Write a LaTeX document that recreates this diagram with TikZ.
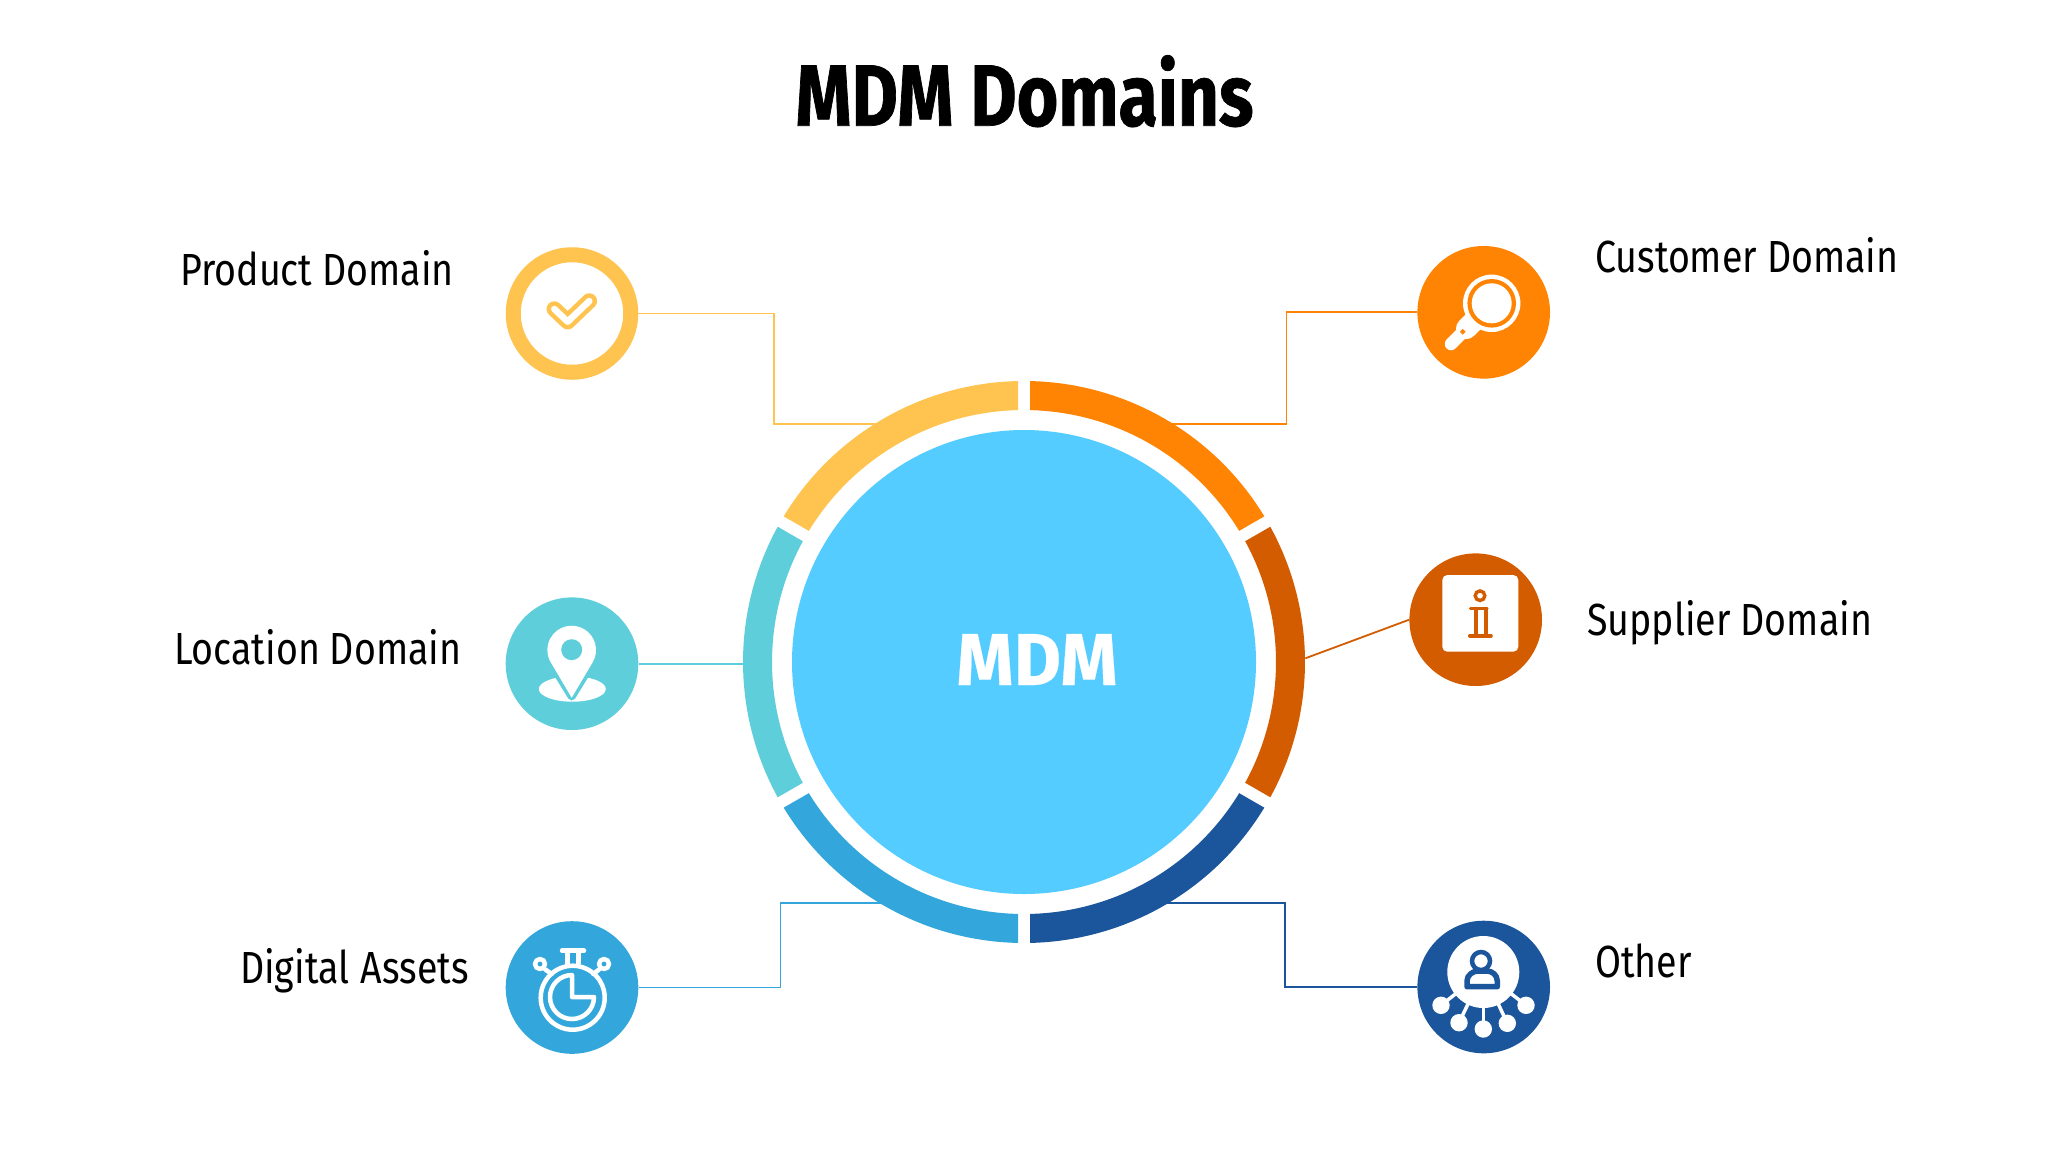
\documentclass[tikz,border=0pt]{standalone}
\usepackage{fontspec}
\setmainfont[FakeStretch=0.835]{Fira Sans}
\newfontfamily\titlefont[FakeStretch=0.82,FakeBold=0.8]{Fira Sans Bold}
\newfontfamily\mdmfont[FakeStretch=0.99,FakeBold=0.3]{Fira Sans Bold}
\definecolor{cyel}{HTML}{FFC34F}
\definecolor{corg}{HTML}{FF8403}
\definecolor{cbrn}{HTML}{D45C00}
\definecolor{cteal}{HTML}{5FCEDB}
\definecolor{cblu}{HTML}{33A7DB}
\definecolor{cnav}{HTML}{1B559C}
\definecolor{cdisc}{HTML}{54CCFF}
\tikzset{
  iconcircle/.style={circle,draw=none,minimum size=132.6pt,inner sep=0pt},
  conn/.style={line width=1.8pt,line join=miter},
  lab/.style={anchor=base west,inner sep=0pt,font=\fontsize{45}{50}\selectfont,text=black},
  iconline/.style={white,line width=4.5pt,line cap=round,line join=round}
}
\newcommand{\ringseg}[3]{%
  \fill[#1] (#2+1.223:281pt) arc[start angle=#2+1.223,end angle=#3-1.223,radius=281pt]
    -- (#3-1.364:252pt) arc[start angle=#3-1.364,end angle=#2+1.364,radius=252pt] -- cycle;}
\begin{document}
\begin{tikzpicture}[x=1pt,y=1pt,yscale=-1]
\useasboundingbox (0,0) rectangle (2048,1152);
\fill[white] (0,0) rectangle (2048,1152);

\node[inner sep=0pt,anchor=base,font=\titlefont\fontsize{87}{90}\selectfont] (title) at (1024.5,125.7) {MDM Domains};

% icon discs
\node[iconcircle,draw=cyel,line width=15pt,minimum size=117.5pt,fill=white] (product) at (572,313.5) {};
\node[iconcircle,fill=corg] (customer) at (1483.7,312.3) {};
\node[iconcircle,fill=cteal] (location) at (572,663.7) {};
\node[iconcircle,fill=cbrn] (supplier) at (1475.7,619.7) {};
\node[iconcircle,fill=cblu] (digital) at (572,987.5) {};
\node[iconcircle,fill=cnav] (other) at (1483.7,987) {};

% connector free ends on the ring
\coordinate (rP) at (905,423.8);
\coordinate (rC) at (1143,423.8);
\coordinate (rL) at (756,663.7);
\coordinate (rS) at (1305.3,658.3);
\coordinate (rD) at (911,903);
\coordinate (rO) at (1137,903);

\draw[conn,cyel] (product.east) -| (773.9,423.8) -- (rP);
\draw[conn,corg] (customer.west) -| (1286.5,423.8) -- (rC);
\draw[conn,cteal] (location.east) -- (rL);
\draw[conn,cbrn] (supplier.west) -- (rS);
\draw[conn,cblu] (digital.east) -| (780.4,903) -- (rD);
\draw[conn,cnav] (other.west) -| (1284.6,903) -- (rO);

% ring and centre
\begin{scope}[shift={(1024,662)}]
\ringseg{corg}{-90}{-30}
\ringseg{cbrn}{-30}{30}
\ringseg{cnav}{30}{90}
\ringseg{cblu}{90}{150}
\ringseg{cteal}{150}{210}
\ringseg{cyel}{210}{270}
\end{scope}
\node[circle,fill=cdisc,minimum size=464pt,inner sep=0pt] (mdm) at (1024,662) {};
\node[inner sep=0pt,anchor=base,text=white,font=\mdmfont\fontsize{73.6}{80}\selectfont] (mdmlabel) at (1037,685) {MDM};

% labels
\node[lab] (lproduct) at (180,285.5) {Product Domain};
\node[lab] (lcustomer) at (1595,272.5) {Customer Domain};
\node[lab] (llocation) at (174,664) {Location Domain};
\node[lab] (lsupplier) at (1587,635.5) {Supplier Domain};
\node[lab,xscale=1] (ldigital) at (240,983) {Digital\hspace{1.5pt} Assets};
\node[lab] (lother) at (1595,977.5) {Other};

% check icon
\draw[cyel,line width=15.5pt,line cap=round,line join=round] (554.3,309) -- (567.7,321.7) -- (589.3,301);
\draw[white,line width=6.5pt,line cap=round,line join=round] (554.3,309) -- (567.7,321.7) -- (589.3,301);

% magnifier icon
\fill[white] (1491.7,303.3) circle[radius=28.7pt];
\draw[white,line width=12.5pt,line cap=round] (1451,344) -- (1470,325);
\draw[white,line width=21pt,line cap=round] (1466.5,328.5) -- (1472,323);
\fill[corg] (1491.7,303.3) circle[radius=24.3pt];
\fill[white] (1491.7,303.3) circle[radius=20pt];
\fill[corg,rotate around={45:(1462.7,331.7)}] (1460.7,329.7) rectangle (1464.7,333.7);

% pin icon
\fill[white] (572.3,689) ellipse[x radius=33.5pt,y radius=12.7pt];
\begin{scope}[shift={(571.7,650)}]
\draw[cteal,line width=8pt,line join=round] (0,46.5) -- (30.6:24.3pt) arc[start angle=30.6,end angle=-210.6,radius=24.3pt] -- cycle;
\fill[white] (0,47.7) -- (30.6:24.3pt) arc[start angle=30.6,end angle=-210.6,radius=24.3pt] -- cycle;
\fill[cteal] (0,-0.3) circle[radius=10.5pt];
\end{scope}

% stopwatch icon
\draw[iconline] (572.7,997.7) circle[radius=32pt];
\begin{scope}[shift={(572,997)}]
\draw[iconline] (0,0) -- (0:22pt) arc[start angle=0,end angle=270,radius=22pt] -- cycle;
\end{scope}
\draw[iconline] (562,950.7) -- (584,950.7);
\draw[iconline,line cap=butt] (567.3,950.7) -- (567.3,964);
\draw[iconline,line cap=butt] (578.3,950.7) -- (578.3,964);
\draw[iconline] (540,964) circle[radius=5pt];
\draw[iconline] (604,964) circle[radius=5pt];
\draw[iconline] (545,969.3) -- (551.7,974);
\draw[iconline] (599.3,969.3) -- (593.3,974);

% info icon
\fill[white,rounded corners=5pt] (1442.3,575) rectangle (1518.3,651.7);
\begin{scope}[cbrn,line width=3.4pt,line cap=round]
\draw (1480,595.7) circle[radius=4.8pt];
\draw (1470.5,608.5) -- (1487,608.5);
\draw (1476,608.5) -- (1476,635.7);
\draw (1486,608.5) -- (1486,635.7);
\draw[line width=4.2pt] (1470,635.7) -- (1490.7,635.7);
\end{scope}

% person network icon
\fill[white] (1483.3,972) circle[radius=36pt];
\foreach \px/\py in {1441/1005.3,1459/1022.7,1483.3/1029,1507.3/1023.3,1526/1005.3}{
  \fill[white] (\px,\py) circle[radius=8.7pt];
  \draw[white,line width=3.5pt] (\px,\py) -- (1483.3,972);
}
\draw[cnav,line width=4.5pt] (1481,961) circle[radius=9pt];
\draw[cnav,line width=5.5pt,line join=round] (1467,986.7) -- (1467,981) .. controls (1467,975) and (1473,971) .. (1478,971) -- (1487,971) .. controls (1492,971) and (1497.3,975) .. (1497.3,981) -- (1497.3,986.7) -- cycle;
\end{tikzpicture}
\end{document}
